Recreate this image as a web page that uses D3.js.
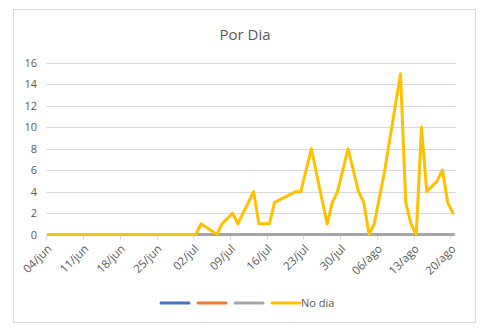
<!DOCTYPE html>
<html>
<head>
<meta charset="utf-8">
<script src="https://cdn.jsdelivr.net/npm/d3@7"></script>
<style>
  html, body { margin: 0; padding: 0; background: #ffffff; }
  svg { display: block; }
  text { font-family: "Open Sans", "Noto Sans", sans-serif; fill: #595959; }
</style>
</head>
<body>
<svg id="chart" width="480" height="328"></svg>
<script>
// ---- data ----
const title = "Por Dia";
const noDiaDates = ["2020-06-04","2020-07-02","2020-07-03","2020-07-06","2020-07-07","2020-07-09","2020-07-10",
  "2020-07-13","2020-07-14","2020-07-16","2020-07-17","2020-07-21","2020-07-22","2020-07-24","2020-07-27",
  "2020-07-28","2020-07-29","2020-07-31","2020-08-02","2020-08-03","2020-08-04","2020-08-05","2020-08-07",
  "2020-08-10","2020-08-11","2020-08-12","2020-08-13","2020-08-14","2020-08-15","2020-08-17","2020-08-18",
  "2020-08-19","2020-08-20"];
const noDiaValues = [0,0,1,0,1,2,1,
  4,1,1,3,4,4,8,1,
  3,4,8,4,3,0,1,6,
  15,3,1,0,10,4,5,6,
  3,2];
const otherDates = ["2020-06-04","2020-08-20"];
const blueValues = [0,0];
const orangeValues = [0,0];
const grayValues = [0,0];
const tickDates = ["2020-06-04","2020-06-11","2020-06-18","2020-06-25","2020-07-02","2020-07-09",
  "2020-07-16","2020-07-23","2020-07-30","2020-08-06","2020-08-13","2020-08-20"];
const tickLabels = ["04/jun","11/jun","18/jun","25/jun","02/jul","09/jul",
  "16/jul","23/jul","30/jul","06/ago","13/ago","20/ago"];
const yTicks = [0,2,4,6,8,10,12,14,16];
const legendNames = ["", "", "", "No dia"];
const colors = ["#4472c4", "#ed7d31", "#a5a5a5", "#ffc000"];

// ---- drawing ----
const parse = d3.utcParse("%Y-%m-%d");
const svg = d3.select("#chart");

svg.append("rect").attr("x", 13.5).attr("y", 9.5).attr("width", 462).attr("height", 313)
  .attr("fill", "#fff").attr("stroke", "#d9d9d9").attr("stroke-width", 1);

svg.append("text").attr("x", 245).attr("y", 40).attr("text-anchor", "middle")
  .attr("font-size", 15).text(title);

const first = parse(tickDates[0]), last = parse(tickDates[tickDates.length - 1]);
const x = d3.scaleUtc()
  .domain([d3.utcHour.offset(first, -12), d3.utcHour.offset(last, 12)])
  .range([46.4, 455.6]);
const y = d3.scaleLinear().domain([0, 16]).range([234.5, 63]);

// gridlines
svg.append("g").selectAll("line").data(yTicks.filter(v => v > 0)).join("line")
  .attr("x1", x.range()[0]).attr("x2", x.range()[1])
  .attr("y1", d => Math.round(y(d)) + 0.5).attr("y2", d => Math.round(y(d)) + 0.5)
  .attr("stroke", "#d9d9d9").attr("stroke-width", 1);

// y axis labels
const yAxis = d3.axisLeft(y).tickValues(yTicks).tickSize(0).tickPadding(0);
const gy = svg.append("g").attr("transform", "translate(37,0)").call(yAxis);
gy.select(".domain").remove();
gy.selectAll("text").attr("font-size", 11).attr("fill", "#595959")
  .style("font-family", '"Open Sans", "Noto Sans", sans-serif');

// x axis baseline
svg.append("line").attr("x1", x.range()[0]).attr("x2", x.range()[1])
  .attr("y1", y(0) + 0.5).attr("y2", y(0) + 0.5).attr("stroke", "#d9d9d9");

// x ticks and labels (ticks between day slots)
const tickPos = tickDates.map(s => x(d3.utcHour.offset(parse(s), -12)));
const gx = svg.append("g");
gx.selectAll("line").data(tickPos).join("line")
  .attr("x1", d => Math.round(d) + 0.5).attr("x2", d => Math.round(d) + 0.5)
  .attr("y1", y(0)).attr("y2", y(0) + 5).attr("stroke", "#d9d9d9");
gx.selectAll("text").data(tickLabels).join("text")
  .attr("transform", (d, i) => `translate(${tickPos[i] + 6},${y(0) + 15}) rotate(-45)`)
  .attr("text-anchor", "end").attr("font-size", 11.5).text(d => d);

// lines
const line = d3.line().x(d => x(d[0])).y(d => y(d[1]));
const mk = (ds, vs) => ds.map((s, i) => [parse(s), vs[i]]);
const series = [
  mk(otherDates, blueValues),
  mk(otherDates, orangeValues),
  mk(otherDates, grayValues),
  mk(noDiaDates, noDiaValues)
];
series.forEach((s, i) => {
  svg.append("path").datum(s).attr("d", line)
    .attr("fill", "none").attr("stroke", colors[i]).attr("stroke-width", 3)
    .attr("stroke-linejoin", "round").attr("stroke-linecap", "round");
});

// legend
const lg = svg.append("g");
legendNames.forEach((n, i) => {
  const lx = 161 + i * 37;
  lg.append("line").attr("x1", lx).attr("x2", lx + 28).attr("y1", 303).attr("y2", 303)
    .attr("stroke", colors[i]).attr("stroke-width", 3).attr("stroke-linecap", "round");
  if (n) lg.append("text").attr("x", lx + 29).attr("y", 307).attr("font-size", 11).text(n);
});
</script>
</body>
</html>
